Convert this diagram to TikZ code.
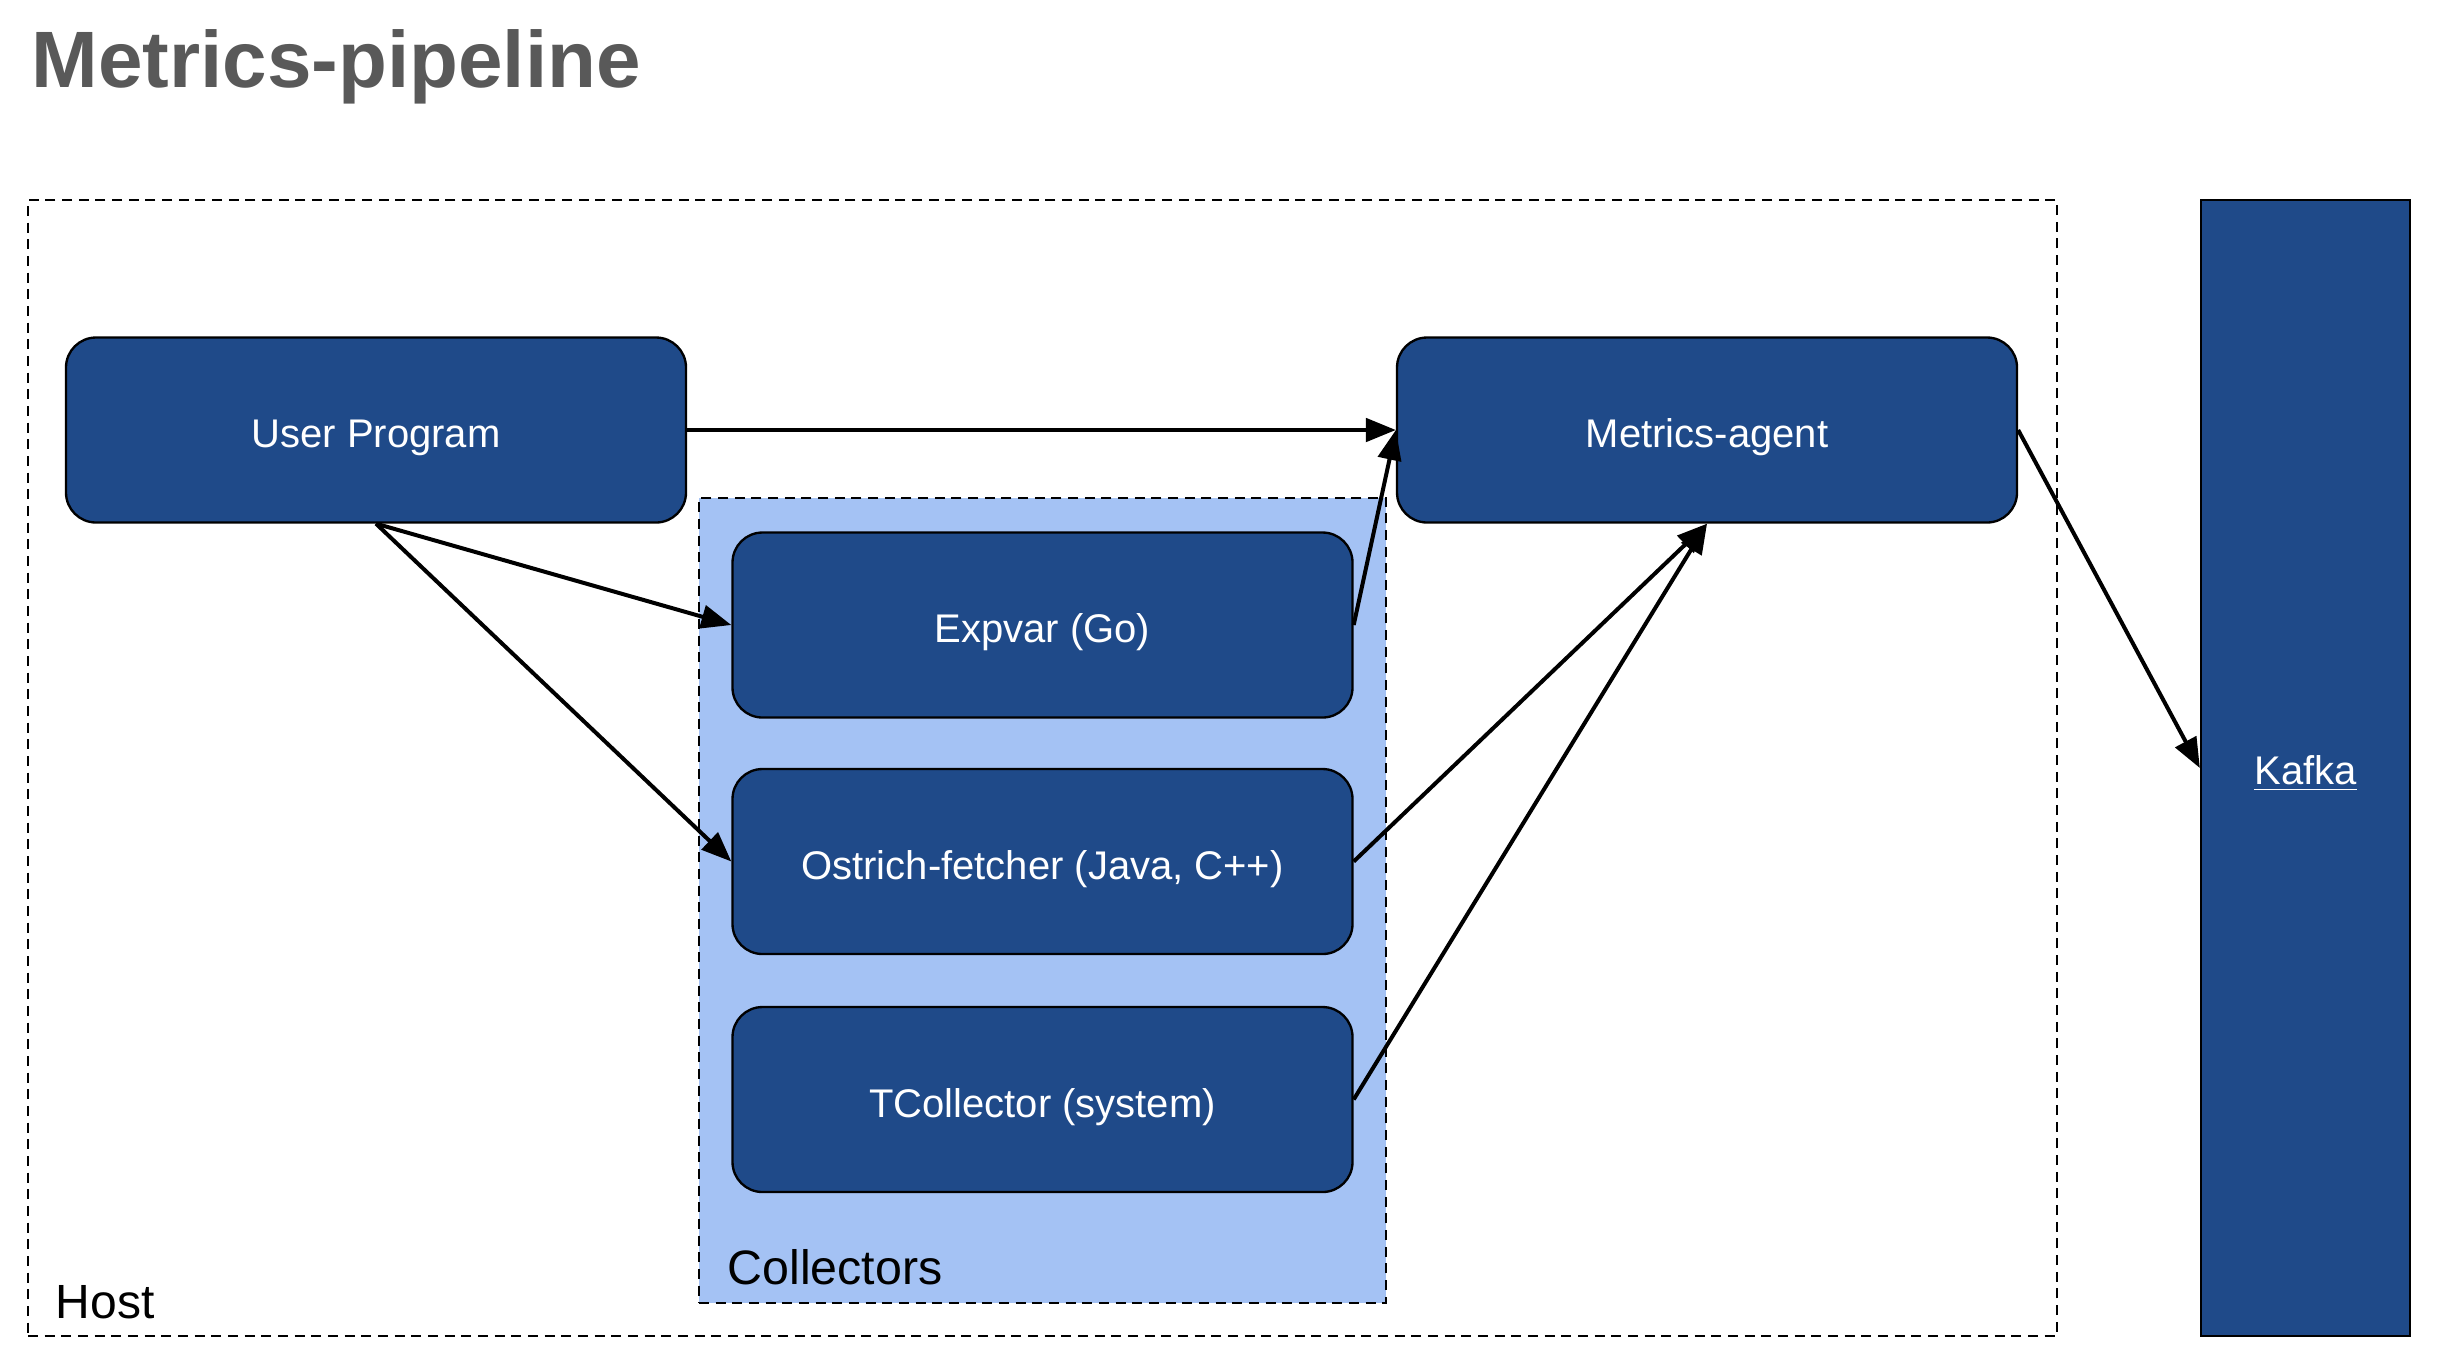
\documentclass[tikz,border=0pt]{standalone}
\usepackage{fontspec}
\setmainfont{Liberation Sans}
\usetikzlibrary{arrows.meta}
\definecolor{boxblue}{RGB}{31,74,137}
\definecolor{collblue}{HTML}{A4C2F4}
\definecolor{titlegray}{HTML}{595959}
\tikzset{
  procbox/.style={draw=black, line width=0.7pt, fill=boxblue, rounded corners=9pt,
    minimum width=186pt, minimum height=55.5pt, text=white, font=\fontsize{12}{14}\selectfont, inner sep=0pt,
    text depth=0pt, text height=10.5pt},
  conn/.style={line width=1.2pt, -{Triangle[length=9pt,width=7pt]}},
  dashbox/.style={draw=black, line width=0.6pt, dash pattern=on 3pt off 2pt}
}
\begin{document}
\begin{tikzpicture}[x=0.3pt,y=-0.3pt]
\useasboundingbox (0,0) rectangle (2456,1354);
% title
\node[anchor=base west, inner sep=0pt, text=titlegray, font=\fontsize{24}{29}\selectfont\bfseries] (title) at (31,87) {Metrics-pipeline};
% host
\node[dashbox, minimum width=608.7pt, minimum height=340.8pt, inner sep=0pt] (host) at (1042.5,768) {};
\node[anchor=base west, inner sep=0pt, font=\fontsize{14.4}{17}\selectfont] (hostlbl) at (55,1318) {Host};
% collectors
\node[dashbox, fill=collblue, minimum width=206.1pt, minimum height=241.5pt, inner sep=0pt] (coll) at (1042.5,900.5) {};
\node[anchor=base west, inner sep=0pt, font=\fontsize{14.5}{17}\selectfont] (colllbl) at (727,1284) {Collectors};
% boxes
\node[procbox] (user) at (376,430) {User Program};
\node[procbox] (agent) at (1707,430) {Metrics-agent};
\node[procbox] (expvar) at (1042.5,625) {Expvar (Go)};
\node[procbox] (ostrich) at (1042.5,861.5) {Ostrich-fetcher (Java, C++)};
\node[procbox] (tcoll) at (1042.5,1099.5) {TCollector (system)};
% kafka
\node[draw=black, line width=0.7pt, fill=boxblue, minimum width=62.7pt, minimum height=340.8pt, inner sep=0pt, text=white, font=\fontsize{12}{14}\selectfont, text depth=0pt, text height=10pt] (kafka) at (2305.5,768) {\underline{Kafka}};
% connectors
\draw[conn] (user.east) -- (agent.west);
\draw[conn] (user.south) -- (expvar.west);
\draw[conn] (user.south) -- (ostrich.west);
\draw[conn] (expvar.east) -- (agent.west);
\draw[conn] (ostrich.east) -- (agent.south);
\draw[conn] (tcoll.east) -- (agent.south);
\draw[conn] (agent.east) -- (kafka.west);
\end{tikzpicture}
\end{document}
